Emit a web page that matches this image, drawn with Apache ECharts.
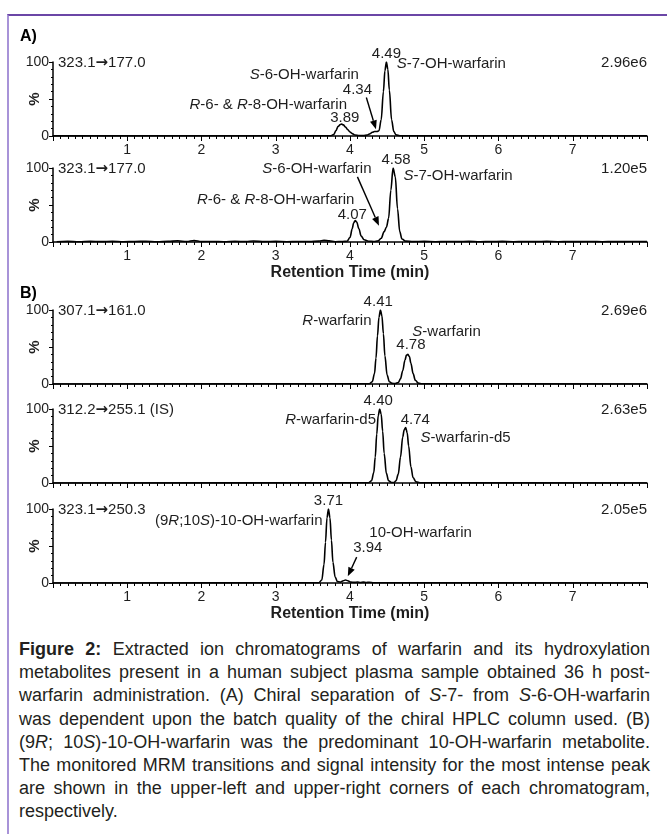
<!DOCTYPE html>
<html>
<head>
<meta charset="utf-8">
<script src="https://cdn.jsdelivr.net/npm/echarts/dist/echarts.min.js"></script>
<style>
  html, body { margin: 0; padding: 0; background: #fff; }
  body { width: 667px; height: 834px; overflow: hidden; position: relative; font-family: "Liberation Sans", Arial, sans-serif; }
  #frame { position: absolute; left: 7px; top: 14px; width: 700px; height: 900px;
           border-top: 2px solid #6b46a6; border-left: 2px solid #a893d8; }
  #chart { position: absolute; left: 0; top: 0; width: 667px; height: 636px; }
  #caption { position: absolute; left: 19px; top: 638px; width: 631px; font-size: 18px; line-height: 23.2px; color: #231f20; }
  #caption div { white-space: nowrap; text-align: justify; text-align-last: justify; }
  #caption div.last { text-align-last: left; }
</style>
</head>
<body>
<div id="frame"></div>
<div id="chart"></div>
<div id="caption">
  <div><b>Figure 2:</b> Extracted ion chromatograms of warfarin and its hydroxylation</div>
  <div>metabolites present in a human subject plasma sample obtained 36 h post-</div>
  <div>warfarin administration. (A) Chiral separation of <i>S</i>-7- from <i>S</i>-6-OH-warfarin</div>
  <div>was dependent upon the batch quality of the chiral HPLC column used. (B)</div>
  <div>(9<i>R</i>; 10<i>S</i>)-10-OH-warfarin was the predominant 10-OH-warfarin metabolite.</div>
  <div>The monitored MRM transitions and signal intensity for the most intense peak</div>
  <div>are shown in the upper-left and upper-right corners of each chromatogram,</div>
  <div class="last">respectively.</div>
</div>
<script>
// ---------- data ----------
const xTickLabels = [1, 2, 3, 4, 5, 6, 7];
const transitions = ['323.1→177.0', '323.1→177.0', '307.1→161.0', '312.2→255.1 (IS)', '323.1→250.3'];
const intensities = ['2.96e6', '1.20e5', '2.69e6', '2.63e5', '2.05e5'];

// Panel A (top): 323.1->177.0
const a1Time = [0, 3.74, 3.78, 3.81, 3.84, 3.87, 3.89, 3.91, 3.94, 3.97, 4.00, 4.03, 4.07, 4.12, 4.18, 4.23, 4.27, 4.30, 4.33, 4.36, 4.39, 4.42, 4.45, 4.47, 4.49, 4.51, 4.53, 4.56, 4.59, 4.62, 4.67, 8];
const a1Pct  = [0.2, 0.3, 2, 7, 13, 15.5, 16, 15, 12, 8.5, 5.5, 3.2, 1.4, 0.6, 0.5, 1.2, 3, 5, 6, 6, 7, 22, 60, 88, 100, 90, 62, 22, 6, 1.5, 0.4, 0.2];

// Panel A (bottom): 323.1->177.0
const a2Time = [0.05, 0.2, 0.35, 0.5, 0.65, 0.8, 0.95, 1.1, 1.25, 1.4, 1.55, 1.68, 1.8, 1.9, 2.0, 2.15, 2.3, 2.45, 2.6, 2.7, 2.85, 3.0, 3.15, 3.3, 3.45, 3.58, 3.65, 3.72, 3.8, 3.9,
  3.96, 4.00, 4.03, 4.05, 4.07, 4.09, 4.12, 4.15, 4.19, 4.25, 4.32, 4.38, 4.42, 4.46, 4.49, 4.52, 4.55, 4.58, 4.61, 4.64, 4.67, 4.70, 4.75, 4.85,
  5.0, 5.15, 5.3, 5.45, 5.6, 5.75, 5.9, 6.05, 6.2, 6.35, 6.5, 6.65, 6.8, 6.95, 7.1, 7.25, 7.4, 7.55, 7.7, 7.85, 8.0];
const a2Pct  = [0.4, 0.8, 0.3, 0.9, 0.5, 1.0, 0.4, 0.7, 0.9, 0.3, 0.8, 1.6, 0.6, 2.0, 0.5, 0.7, 0.4, 0.9, 0.6, 1.3, 0.5, 0.8, 0.4, 0.7, 0.5, 1.2, 2.2, 1.5, 0.4, 0.6,
  1, 6, 18, 26, 29, 27, 18, 8, 3, 1, 0.6, 1.5, 5, 14, 20, 32, 70, 100, 88, 45, 14, 4, 1.2, 0.5,
  0.8, 0.4, 0.7, 0.5, 0.9, 0.4, 0.6, 0.8, 0.4, 0.7, 0.5, 0.8, 0.4, 0.6, 0.5, 0.7, 0.4, 0.6, 0.5, 0.7, 0.5];

// Panel B (warfarin): 307.1->161.0
const b1Time = [0, 4.26, 4.30, 4.33, 4.35, 4.37, 4.39, 4.41, 4.43, 4.45, 4.47, 4.50, 4.53, 4.57, 4.61, 4.65, 4.68, 4.71, 4.74, 4.76, 4.78, 4.80, 4.82, 4.85, 4.88, 4.92, 4.97, 8];
const b1Pct  = [0, 0.3, 3, 14, 35, 65, 90, 100, 92, 68, 38, 12, 3, 0.8, 0.6, 2, 7, 18, 32, 39, 40, 37, 28, 14, 5, 1.2, 0.3, 0];

// Panel B (IS): 312.2->255.1
const b2Time = [0, 4.25, 4.29, 4.32, 4.34, 4.36, 4.38, 4.40, 4.42, 4.44, 4.46, 4.49, 4.52, 4.56, 4.59, 4.62, 4.65, 4.68, 4.71, 4.73, 4.75, 4.77, 4.79, 4.82, 4.85, 4.89, 4.94, 8];
const b2Pct  = [0, 0.3, 3, 14, 35, 66, 91, 100, 93, 70, 40, 13, 3, 0.7, 0.6, 3, 12, 35, 62, 72, 75, 68, 50, 22, 7, 1.5, 0.3, 0];

// Panel B (10-OH): 323.1->250.3
const b3Time = [0, 3.58, 3.62, 3.65, 3.67, 3.69, 3.71, 3.73, 3.75, 3.77, 3.80, 3.83, 3.87, 3.91, 3.94, 3.97, 4.01, 4.06, 4.10, 4.14, 4.18, 4.22, 4.26, 4.32, 8];
const b3Pct  = [0, 0.3, 4, 25, 55, 88, 100, 88, 58, 28, 8, 2, 1.2, 3, 4, 3, 1.2, 0.8, 1.3, 0.7, 1.2, 0.6, 1.0, 0.3, 0];

// annotations: [panel, text, time, pct, align, verticalAlign]
const annotations = [
  [0, '4.49', 4.49, 101, 'center', 'bottom'],
  [0, '{i|S}-7-OH-warfarin', 4.63, 98, 'left', 'middle'],
  [0, '{i|S}-6-OH-warfarin', 4.12, 82, 'right', 'middle'],
  [0, '4.34', 4.10, 63, 'center', 'middle'],
  [0, '{i|R}-6- & {i|R}-8-OH-warfarin', 3.96, 42, 'right', 'middle'],
  [0, '3.89', 3.93, 25, 'center', 'middle'],
  [1, '4.58', 4.62, 101, 'center', 'bottom'],
  [1, '{i|S}-7-OH-warfarin', 4.72, 90, 'left', 'middle'],
  [1, '{i|S}-6-OH-warfarin', 4.29, 99, 'right', 'middle'],
  [1, '{i|R}-6- & {i|R}-8-OH-warfarin', 4.06, 57, 'right', 'middle'],
  [1, '4.07', 4.03, 37, 'center', 'middle'],
  [2, '4.41', 4.38, 101, 'center', 'bottom'],
  [2, '{i|R}-warfarin', 4.29, 86, 'right', 'middle'],
  [2, '{i|S}-warfarin', 4.84, 71, 'left', 'middle'],
  [2, '4.78', 4.82, 53, 'center', 'middle'],
  [3, '4.40', 4.38, 101, 'center', 'bottom'],
  [3, '{i|R}-warfarin-d5', 4.35, 86, 'right', 'middle'],
  [3, '4.74', 4.88, 85, 'center', 'middle'],
  [3, '{i|S}-warfarin-d5', 4.95, 61, 'left', 'middle'],
  [4, '3.71', 3.71, 101, 'center', 'bottom'],
  [4, '(9{i|R};10{i|S})-10-OH-warfarin', 3.63, 84, 'right', 'middle'],
  [4, '10-OH-warfarin', 4.26, 68, 'left', 'middle'],
  [4, '3.94', 4.24, 47, 'center', 'middle']
];
// arrows: [panel, fromTime, fromPct, toTime, toPct]
const arrows = [
  [0, 4.22, 52, 4.35, 9],
  [1, 4.10, 88, 4.39, 22],
  [4, 4.09, 35, 3.97, 9]
];

// ---------- layout ----------
const panels = [
  { time: a1Time, pct: a1Pct, top: 62, labels: true, title: false },
  { time: a2Time, pct: a2Pct, top: 168, labels: true, title: true },
  { time: b1Time, pct: b1Pct, top: 310, labels: false, title: false },
  { time: b2Time, pct: b2Pct, top: 409, labels: false, title: false },
  { time: b3Time, pct: b3Pct, top: 509, labels: true, title: true }
];
const PANEL_H = 74;
const FONT = '"Liberation Sans", Arial, sans-serif';
const TXT = '#1e1e1e';

const chart = echarts.init(document.getElementById('chart'), null, { renderer: 'canvas' });

const grid = [], xAxis = [], yAxis = [], series = [];
panels.forEach((p, i) => {
  grid.push({ left: 53, width: 594, top: p.top, height: PANEL_H, containLabel: false });
  xAxis.push({
    gridIndex: i, type: 'value', min: 0, max: 8, interval: 1,
    axisLine: { show: true, onZero: false, lineStyle: { color: '#000', width: 1.5 } },
    axisTick: { show: true, length: 5, lineStyle: { color: '#000', width: 1 } },
    minorTick: { show: true, splitNumber: 10, length: 3, lineStyle: { color: '#000', width: 1 } },
    splitLine: { show: false },
    axisLabel: {
      show: p.labels, margin: 7, fontSize: 14, fontFamily: FONT, color: TXT,
      formatter: v => (xTickLabels.indexOf(v) >= 0 ? String(v) : '')
    },
    name: p.title ? 'Retention Time (min)' : '',
    nameLocation: 'middle', nameGap: 23, nameMoveOverlap: false,
    nameTextStyle: { fontSize: 16, fontWeight: 'bold', fontFamily: FONT, color: TXT }
  });
  yAxis.push({
    gridIndex: i, type: 'value', min: 0, max: 100, interval: 50,
    axisLine: { show: true, lineStyle: { color: '#000', width: 1.5 } },
    axisTick: { show: true, length: 4, lineStyle: { color: '#000', width: 1 } },
    minorTick: { show: true, splitNumber: 5, length: 2, lineStyle: { color: '#000', width: 1 } },
    splitLine: { show: false },
    axisLabel: {
      margin: 4, fontSize: 14, fontFamily: FONT, color: TXT,
      formatter: v => (v === 100 ? '100' : (v === 0 ? '0' : ''))
    },
    name: '%', nameLocation: 'middle', nameRotate: 90, nameGap: 11, nameMoveOverlap: false,
    nameTextStyle: { fontSize: 15, fontFamily: FONT, color: TXT, fontWeight: 'bold' }
  });
  series.push({
    type: 'line', xAxisIndex: i, yAxisIndex: i,
    data: p.time.map((t, k) => [t, p.pct[k]]),
    showSymbol: false, smooth: 0.35, smoothMonotone: 'x',
    lineStyle: { color: '#000', width: 1.6 }, silent: true, animation: false
  });
});

chart.setOption({
  animation: false,
  grid, xAxis, yAxis, series
});

// ---------- text annotations positioned through the axes ----------
const FS = 15;
const rich = {
  i: { fontStyle: 'italic', fontSize: FS, fontFamily: FONT, fill: TXT },
  a: { fontSize: FS, fontFamily: '"DejaVu Sans", sans-serif', fontWeight: 'bold', fill: TXT }
};
const graphic = [];
function txt(x, y, text, align, vAlign) {
  graphic.push({
    type: 'text', x: x, y: y, silent: true,
    style: { text: text, fontSize: FS, fontFamily: FONT, fill: TXT, align: align, verticalAlign: vAlign, rich: rich }
  });
}
function letter(x, y, text) {
  graphic.push({ type: 'text', x: x, y: y, silent: true,
    style: { text: text, fontSize: 16, fontWeight: 'bold', fontFamily: FONT, fill: '#000', align: 'left', verticalAlign: 'middle' } });
}
letter(20, 37, 'A)');
letter(20, 294, 'B)');

panels.forEach((p, i) => {
  const l = chart.convertToPixel({ gridIndex: i }, [0, 100]);
  const r = chart.convertToPixel({ gridIndex: i }, [8, 100]);
  txt(l[0] + 5, l[1] + 1, transitions[i].replace('→', '{a|→}'), 'left', 'middle');
  txt(r[0], r[1] + 1, intensities[i], 'right', 'middle');
});
annotations.forEach(a => {
  const pt = chart.convertToPixel({ gridIndex: a[0] }, [a[2], a[3]]);
  txt(pt[0], pt[1], a[1], a[4], a[5]);
});
arrows.forEach(a => {
  const p1 = chart.convertToPixel({ gridIndex: a[0] }, [a[1], a[2]]);
  const p2 = chart.convertToPixel({ gridIndex: a[0] }, [a[3], a[4]]);
  const dx = p2[0] - p1[0], dy = p2[1] - p1[1];
  const len = Math.sqrt(dx * dx + dy * dy);
  const ux = dx / len, uy = dy / len;
  const hl = 9, hw = 3.5;
  const bx = p2[0] - ux * hl, by = p2[1] - uy * hl;
  graphic.push({ type: 'line', silent: true, shape: { x1: p1[0], y1: p1[1], x2: bx, y2: by }, style: { stroke: '#000', lineWidth: 1.4 } });
  graphic.push({ type: 'polygon', silent: true, shape: { points: [[p2[0], p2[1]], [bx - uy * hw, by + ux * hw], [bx + uy * hw, by - ux * hw]] }, style: { fill: '#000' } });
});

chart.setOption({ graphic: graphic });
</script>
</body>
</html>
